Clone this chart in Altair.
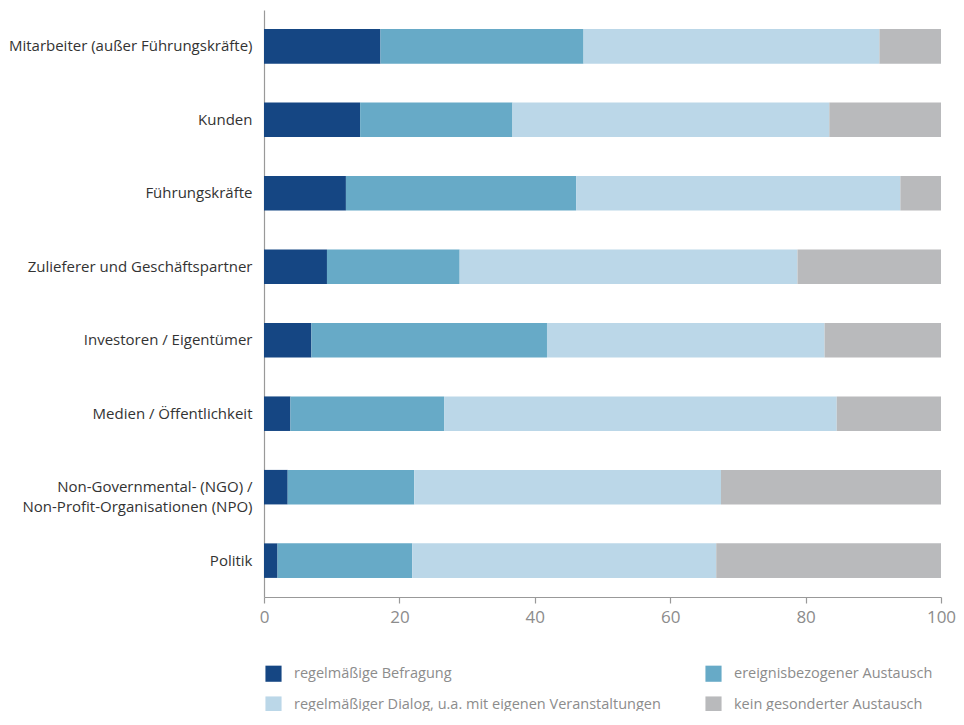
import altair as alt
import pandas as pd

categories = [
    "Mitarbeiter (außer Führungskräfte)",
    "Kunden",
    "Führungskräfte",
    "Zulieferer und Geschäftspartner",
    "Investoren / Eigentümer",
    "Medien / Öffentlichkeit",
    "Non-Governmental- (NGO) /|Non-Profit-Organisationen (NPO)",
    "Politik",
]
series = [
    "regelmäßige Befragung",
    "ereignisbezogener Austausch",
    "regelmäßiger Dialog, u.a. mit eigenen Veranstaltungen",
    "kein gesonderter Austausch",
]
befragung = [17.2, 14.2, 12.1, 9.3, 7.0, 3.9, 3.5, 2.0]
ereignis = [30.0, 22.5, 34.0, 19.6, 34.8, 22.7, 18.7, 19.9]
dialog = [43.7, 46.8, 47.9, 49.9, 41.0, 58.0, 45.3, 44.9]
kein = [9.1, 16.5, 6.0, 21.2, 17.2, 15.4, 32.5, 33.2]
colors = ["#154683", "#67aac7", "#bbd7e8", "#b9babc"]

# legend is laid out column by column: reorder domain so rows read as in the original
legend_order = [series[0], series[2], series[1], series[3]]
legend_colors = [colors[0], colors[2], colors[1], colors[3]]

rows = []
for si, (name, vals) in enumerate(zip(series, [befragung, ereignis, dialog, kein])):
    for ci, cat in enumerate(categories):
        rows.append({"Kategorie": cat, "Art": name, "Wert": vals[ci], "ord": si})
df = pd.DataFrame(rows)

font = "Open Sans"

chart = alt.Chart(df).mark_bar().encode(
    y=alt.Y("Kategorie:N", sort=categories, title=None,
            scale=alt.Scale(paddingInner=0.53, paddingOuter=0.26),
            axis=alt.Axis(labelExpr="split(datum.label, '|')", ticks=False,
                          domainColor="#999999", domainWidth=1.2,
                          labelFont=font, labelFontSize=15, labelColor="#333333",
                          labelPadding=12, labelLineHeight=20, labelLimit=400)),
    x=alt.X("Wert:Q", stack="zero", title=None,
            scale=alt.Scale(domain=[0, 100], nice=False),
            axis=alt.Axis(values=[0, 20, 40, 60, 80, 100], grid=False,
                          domainColor="#999999", domainWidth=1.2,
                          tickColor="#999999", tickSize=6, tickWidth=1.2,
                          labelFont=font, labelFontSize=17, labelColor="#8c8c8c",
                          labelPadding=6, labelFlush=False)),
    color=alt.Color("Art:N", sort=legend_order,
                    scale=alt.Scale(domain=legend_order, range=legend_colors),
                    legend=alt.Legend(title=None, orient="none", legendX=1, legendY=655,
                                      columns=2, columnPadding=44, rowPadding=14,
                                      symbolType="square", symbolSize=260,
                                      symbolStrokeWidth=0, symbolOffset=0,
                                      labelFont=font, labelFontSize=14.5,
                                      labelColor="#8c8c8c", labelOffset=12,
                                      labelLimit=500)),
    order=alt.Order("ord:Q"),
).properties(
    width=677, height=587,
    autosize=alt.AutoSizeParams(type="none"),
    padding={"left": 256, "top": 2, "right": 15, "bottom": 114},
).configure_view(stroke=None)

chart.save("out.html", embed_options={"renderer": "svg", "actions": False})
